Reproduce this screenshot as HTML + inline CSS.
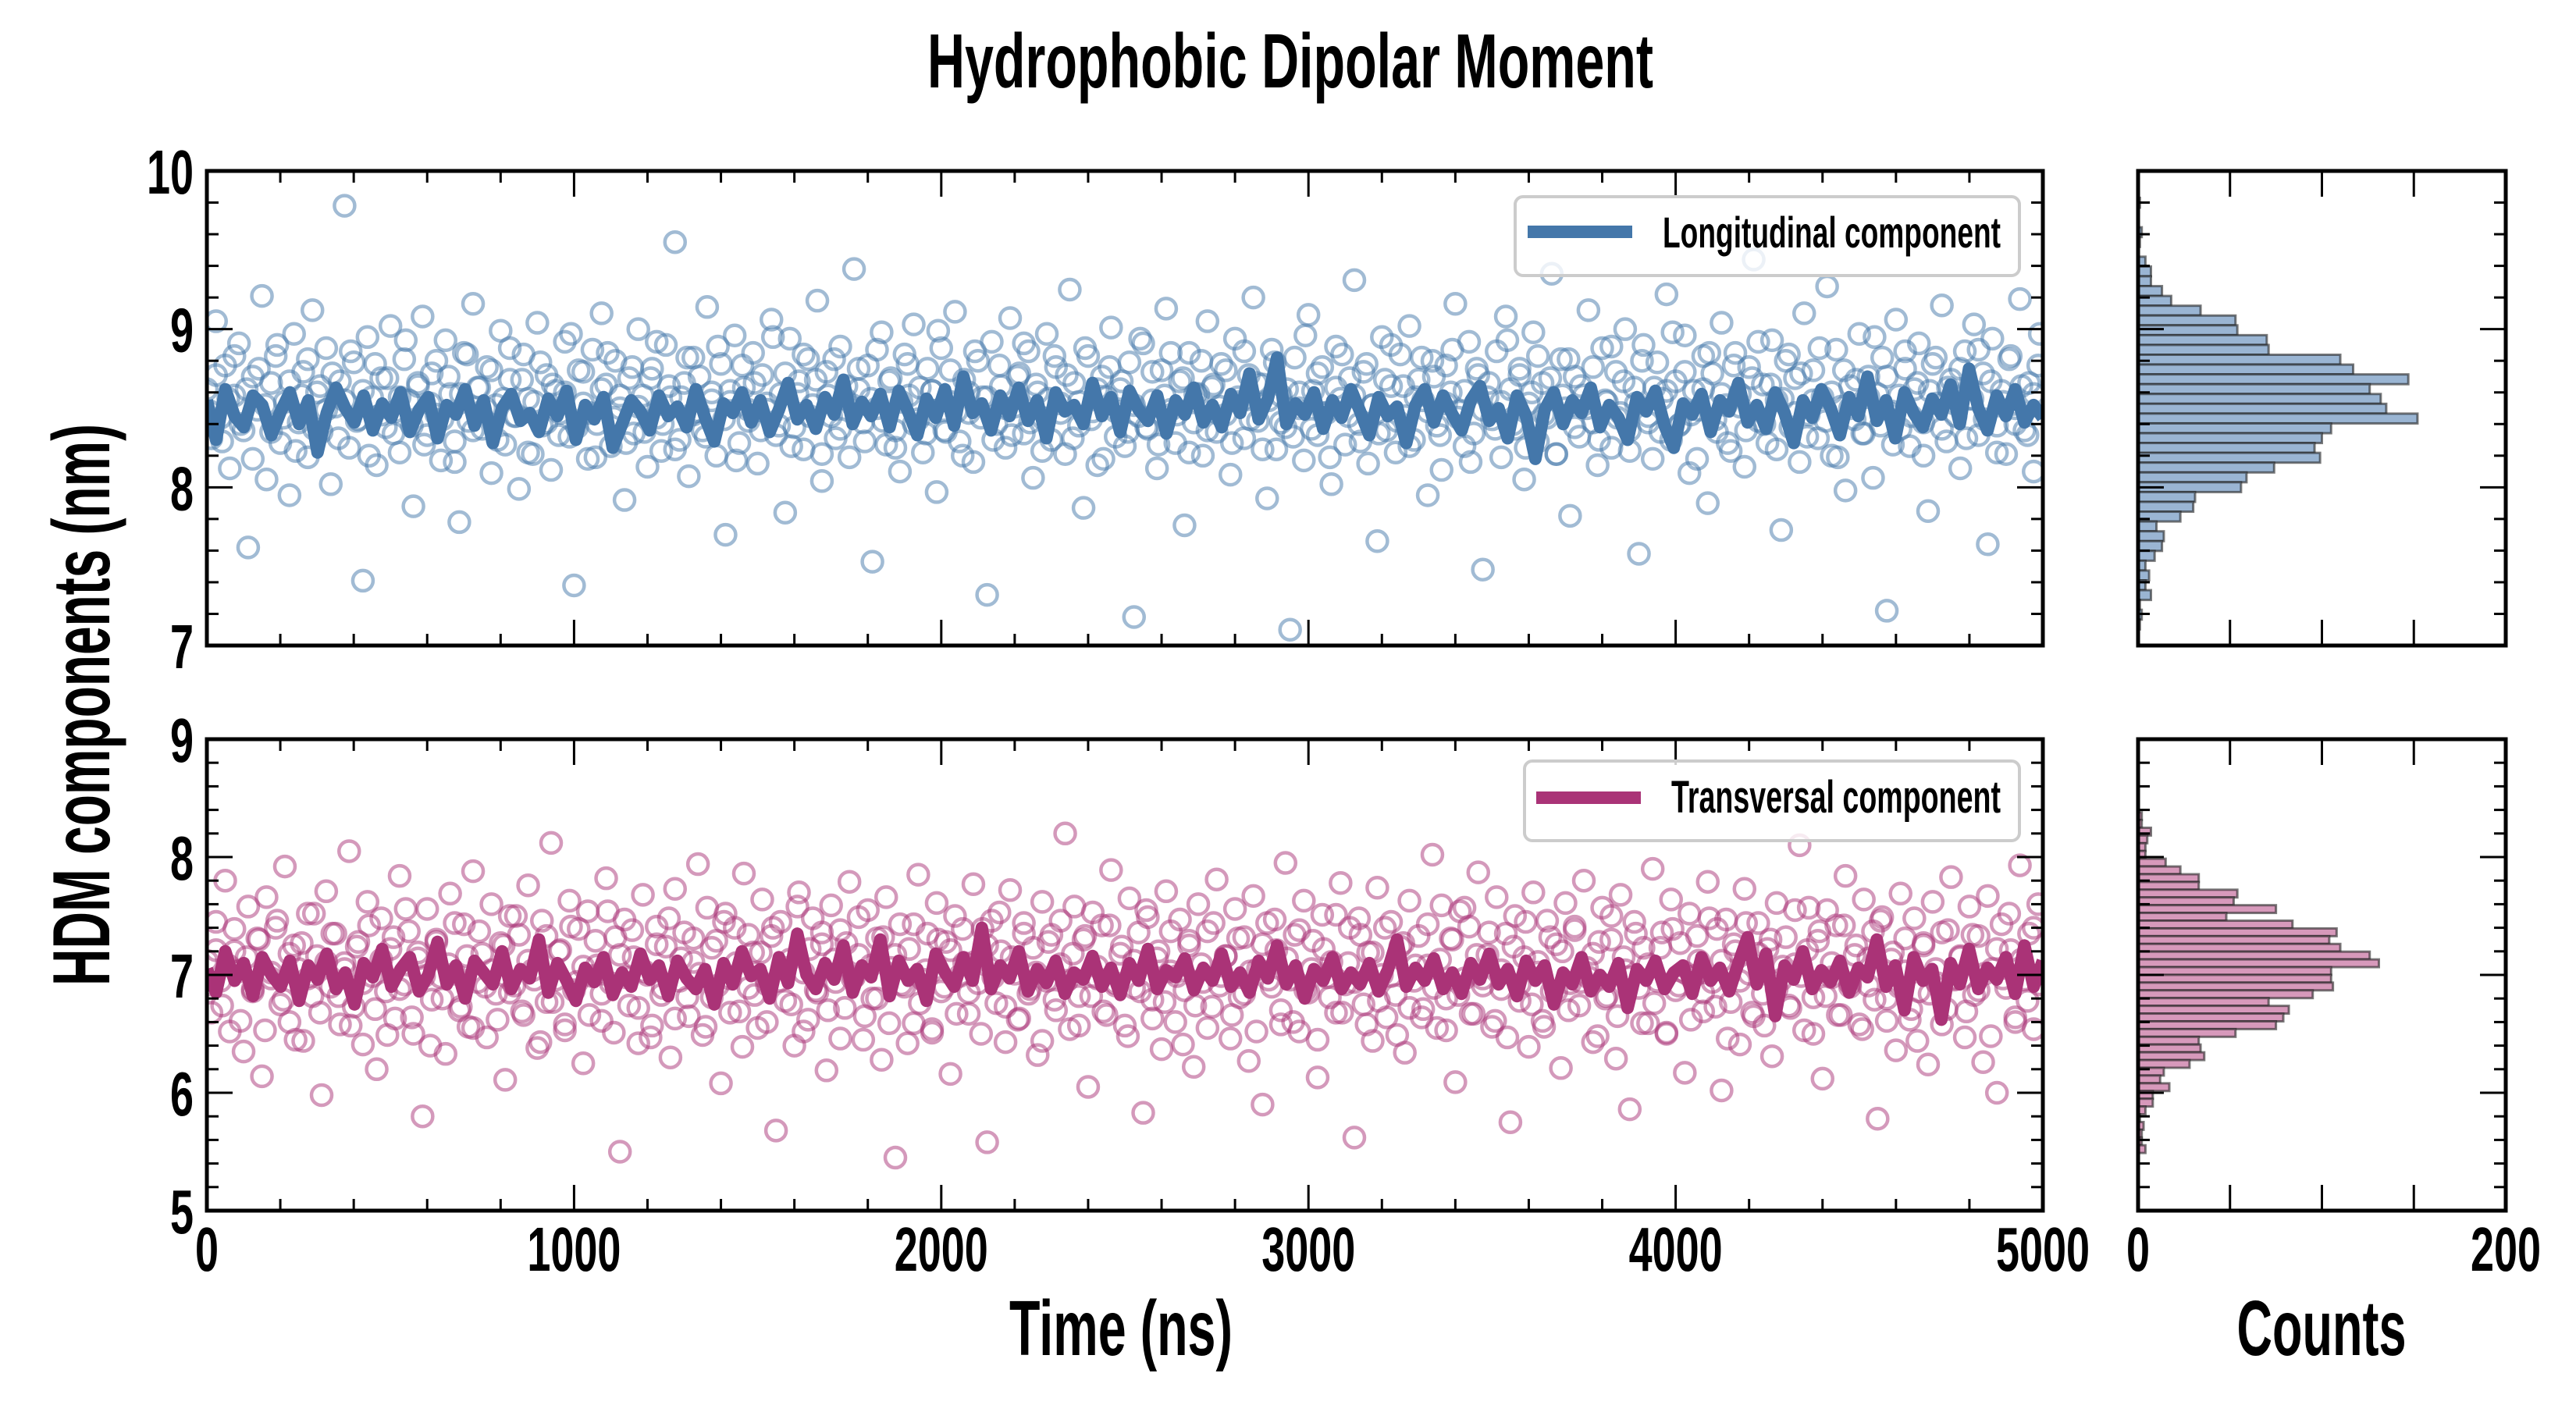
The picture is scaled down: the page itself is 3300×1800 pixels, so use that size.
<!DOCTYPE html>
<html><head><meta charset="utf-8"><style>
html,body{margin:0;padding:0;background:#fff;}
svg{display:block;}
text{font-family:"Liberation Sans",sans-serif;font-weight:bold;fill:#000;}
</style></head><body>
<svg id="chart" width="3300" height="1800" viewBox="0 0 3300 1800" xmlns="http://www.w3.org/2000/svg">
<defs>
<clipPath id="clipTop"><rect x="265" y="219" width="2352" height="608"/></clipPath>
<clipPath id="clipBot"><rect x="265" y="947" width="2352" height="604"/></clipPath>
</defs>
<text x="1653" y="112" font-size="98" text-anchor="middle" textLength="930" lengthAdjust="spacingAndGlyphs">Hydrophobic Dipolar Moment</text>
<text transform="translate(140,903) rotate(-90)" font-size="104" text-anchor="middle" textLength="720" lengthAdjust="spacingAndGlyphs">HDM components (nm)</text>
<text x="1436" y="1736" font-size="100" text-anchor="middle" textLength="286" lengthAdjust="spacingAndGlyphs">Time (ns)</text>
<text x="2974" y="1736" font-size="100" text-anchor="middle" textLength="217" lengthAdjust="spacingAndGlyphs">Counts</text>
<g id="gTop"></g>
<g id="gBot"></g>
<g id="gHTop"></g>
<g id="gHBot"></g>
<g id="legTop">
<rect x="1941" y="252" width="646" height="101" rx="10" fill="#fff" fill-opacity="0.8" stroke="#cccccc" stroke-width="4"/>
<line x1="1957" y1="297" x2="2091" y2="297" stroke="#4477aa" stroke-width="16"/>
<text x="2130" y="317" font-size="56" textLength="433" lengthAdjust="spacingAndGlyphs">Longitudinal component</text>
</g>
<g id="legBot">
<rect x="1953" y="975" width="634" height="102" rx="10" fill="#fff" fill-opacity="0.8" stroke="#cccccc" stroke-width="4"/>
<line x1="1968" y1="1022" x2="2102" y2="1022" stroke="#aa3377" stroke-width="16"/>
<text x="2141" y="1041" font-size="58" textLength="422" lengthAdjust="spacingAndGlyphs">Transversal component</text>
</g>
</svg>
<script>
const longScatter=[8.62,8.31,9.05,8.44,8.77,8.12,8.58,8.91,8.36,7.62,8.70,8.49,9.21,8.05,8.66,8.83,8.28,8.54,7.95,8.97,
8.41,8.73,8.19,9.12,8.60,8.35,8.88,8.02,8.51,8.67,9.78,8.25,8.79,8.43,7.41,8.95,8.57,8.14,8.69,8.38,
9.02,8.48,8.22,8.81,8.55,7.88,8.64,9.08,8.33,8.72,8.46,8.17,8.93,8.59,8.29,7.78,8.85,8.42,9.16,8.63,
8.37,8.76,8.09,8.52,8.99,8.27,8.68,8.45,7.99,8.84,8.56,8.21,9.04,8.39,8.71,8.11,8.61,8.47,8.92,8.32,
7.38,8.74,8.53,8.18,8.87,8.40,9.10,8.65,8.26,8.80,8.50,7.92,8.69,8.34,9.00,8.58,8.13,8.75,8.44,8.23,
8.90,8.57,9.55,8.30,8.66,8.07,8.82,8.48,8.36,9.14,8.60,8.20,8.78,7.70,8.54,8.96,8.28,8.63,8.42,8.85,
8.15,8.71,8.49,9.06,8.33,8.59,7.84,8.94,8.38,8.67,8.24,8.81,8.52,9.18,8.04,8.73,8.45,8.31,8.89,8.56,
8.19,9.38,8.62,8.41,8.77,7.53,8.50,8.98,8.27,8.69,8.36,8.10,8.84,8.58,9.03,8.43,8.22,8.75,8.61,7.97,
8.88,8.35,8.54,9.11,8.29,8.68,8.47,8.16,8.80,8.57,7.32,8.92,8.40,8.64,8.25,9.07,8.51,8.72,8.34,8.86,
8.06,8.60,8.44,8.97,8.30,8.76,8.53,8.21,9.25,8.66,8.39,7.87,8.83,8.48,8.14,8.70,8.57,9.01,8.32,8.62,
8.26,8.79,7.18,8.45,8.91,8.37,8.55,8.12,8.74,9.13,8.49,8.28,8.67,7.76,8.85,8.41,8.59,8.20,9.05,8.63,
8.35,8.78,8.46,8.08,8.94,8.54,8.31,8.71,9.20,8.42,8.65,7.93,8.87,8.24,8.58,8.38,7.10,8.82,8.50,8.17,
9.09,8.61,8.33,8.76,8.47,8.02,8.89,8.56,8.27,8.69,9.31,8.40,8.73,8.15,8.52,7.66,8.95,8.36,8.64,8.22,
8.84,8.45,9.02,8.30,8.68,8.55,7.95,8.80,8.39,8.11,8.77,8.60,9.16,8.48,8.26,8.92,8.34,8.71,7.48,8.57,
8.43,8.86,8.19,9.08,8.62,8.37,8.75,8.05,8.53,8.98,8.29,8.66,8.44,9.35,8.21,8.81,8.50,7.82,8.70,8.32,
8.58,9.12,8.41,8.14,8.88,8.54,8.25,8.73,8.47,9.00,8.36,8.63,7.58,8.90,8.45,8.18,8.79,8.56,9.22,8.30,
8.67,8.40,8.96,8.09,8.61,8.49,8.83,7.90,8.72,8.35,9.04,8.52,8.23,8.85,8.59,8.13,8.76,9.44,8.42,8.65,
8.28,8.93,8.55,7.73,8.80,8.38,8.69,8.16,9.10,8.46,8.74,8.31,8.57,9.27,8.20,8.87,8.51,7.98,8.64,8.43,
8.97,8.34,8.70,8.06,8.59,8.82,7.22,8.48,9.06,8.37,8.75,8.26,8.62,8.91,8.41,7.85,8.78,8.53,9.15,8.29,
8.68,8.45,8.12,8.86,8.56,9.03,8.33,8.72,7.64,8.94,8.39,8.61,8.21,8.83,8.50,9.19,8.36,8.66,8.10,8.77];
const longScatterB=[8.48,8.71,8.29,8.56,8.83,8.40,8.62,8.18,8.75,8.52,8.35,8.90,8.44,8.67,8.23,8.58,8.81,8.37,8.64,8.49,
8.72,8.31,8.55,8.86,8.42,8.61,8.20,8.78,8.46,8.69,8.34,8.57,8.93,8.39,8.66,8.27,8.53,8.80,8.43,8.70,
8.16,8.59,8.84,8.36,8.63,8.50,8.74,8.30,8.56,8.88,8.45,8.68,8.22,8.54,8.79,8.41,8.65,8.33,8.60,8.97,
8.38,8.73,8.47,8.19,8.62,8.85,8.44,8.58,8.28,8.76,8.51,8.35,8.69,8.92,8.40,8.64,8.24,8.57,8.82,8.46,
8.70,8.32,8.55,8.89,8.43,8.61,8.17,8.77,8.49,8.66,8.36,8.53,8.95,8.39,8.72,8.26,8.59,8.84,8.45,8.68,
8.21,8.58,8.81,8.37,8.64,8.52,8.75,8.29,8.56,8.87,8.42,8.67,8.25,8.54,8.78,8.40,8.63,8.34,8.61,8.99,
8.36,8.74,8.48,8.20,8.60,8.86,8.44,8.57,8.30,8.77,8.50,8.33,8.70,8.91,8.41,8.65,8.23,8.56,8.83,8.47,
8.71,8.31,8.54,8.88,8.43,8.62,8.18,8.76,8.48,8.67,8.35,8.52,8.94,8.38,8.73,8.27,8.58,8.85,8.46,8.69,
8.22,8.59,8.80,8.36,8.65,8.51,8.74,8.28,8.57,8.86,8.43,8.66,8.24,8.55,8.79,8.41,8.62,8.32,8.60,8.96,
8.37,8.72,8.47,8.19,8.63,8.84,8.45,8.58,8.29,8.78,8.52,8.34,8.68,8.90,8.42,8.64,8.26,8.57,8.82,8.48,
8.70,8.33,8.53,8.87,8.44,8.61,8.16,8.75,8.49,8.66,8.37,8.54,8.93,8.40,8.71,8.25,8.60,8.83,8.46,8.69,
8.21,8.58,8.81,8.38,8.64,8.50,8.76,8.30,8.55,8.89,8.44,8.67,8.23,8.53,8.80,8.41,8.63,8.35,8.61,8.98,
8.39,8.73,8.46,8.18,8.62,8.85,8.43,8.59,8.28,8.77,8.51,8.36,8.69,8.92,8.40,8.65,8.24,8.56,8.84,8.47,
8.72,8.32,8.55,8.88,8.42,8.60,8.19,8.74,8.50,8.68,8.34,8.57,8.95,8.39,8.70,8.27,8.58,8.86,8.45,8.66,
8.20,8.61,8.82,8.37,8.63,8.53,8.75,8.31,8.56,8.87,8.43,8.67,8.22,8.54,8.81,8.40,8.64,8.33,8.59,8.97];
const longLine=[8.55,8.30,8.62,8.45,8.38,8.58,8.52,8.33,8.48,8.60,8.40,8.55,8.22,8.47,8.63,8.50,8.41,8.58,8.36,8.53,
8.44,8.60,8.35,8.49,8.57,8.31,8.52,8.46,8.62,8.39,8.55,8.28,8.50,8.59,8.42,8.47,8.35,8.56,8.45,8.61,
8.30,8.52,8.43,8.57,8.25,8.40,8.55,8.48,8.36,8.58,8.45,8.51,8.38,8.62,8.44,8.29,8.53,8.47,8.60,8.41,
8.55,8.35,8.49,8.66,8.43,8.52,8.37,8.57,8.46,8.68,8.40,8.54,8.45,8.59,8.38,8.61,8.48,8.33,8.56,8.44,
8.62,8.39,8.70,8.47,8.53,8.36,8.58,8.45,8.63,8.42,8.55,8.31,8.60,8.48,8.52,8.40,8.66,8.45,8.57,8.35,
8.61,8.49,8.42,8.58,8.34,8.55,8.46,8.63,8.41,8.52,8.38,8.59,8.47,8.72,8.43,8.56,8.82,8.40,8.53,8.46,
8.60,8.37,8.55,8.44,8.62,8.48,8.33,8.57,8.45,8.51,8.28,8.52,8.62,8.41,8.58,8.46,8.36,8.55,8.64,8.42,
8.50,8.31,8.58,8.45,8.18,8.49,8.60,8.40,8.55,8.47,8.63,8.38,8.52,8.44,8.30,8.57,8.48,8.61,8.39,8.25,
8.53,8.46,8.59,8.35,8.55,8.48,8.66,8.41,8.52,8.37,8.60,8.47,8.28,8.55,8.44,8.62,8.50,8.33,8.57,8.45,
8.70,8.42,8.55,8.31,8.60,8.47,8.38,8.56,8.46,8.65,8.40,8.75,8.50,8.36,8.58,8.45,8.62,8.41,8.52,8.44];
const transScatter=[7.12,6.68,7.45,6.95,7.80,6.52,7.20,7.03,6.35,7.58,6.88,7.31,6.14,7.66,6.97,7.40,6.75,7.92,6.60,7.25,
7.05,6.44,7.52,6.82,7.16,5.98,7.71,6.90,7.35,6.58,7.10,8.05,6.73,7.28,6.41,7.62,6.99,6.20,7.48,6.86,
7.22,6.63,7.84,6.92,7.37,6.50,7.14,5.80,7.56,6.79,7.30,6.98,6.33,7.69,7.01,6.70,7.43,6.56,7.88,6.94,
7.18,6.47,7.60,6.84,7.27,6.11,7.50,6.91,7.34,6.66,7.76,7.04,6.38,7.46,6.77,8.12,6.96,7.21,6.53,7.63,
6.87,7.39,6.25,7.54,6.99,7.08,6.61,7.82,6.93,7.32,5.50,7.47,6.74,7.15,6.42,7.68,7.00,6.57,7.41,6.83,
7.24,6.30,7.73,6.95,7.36,6.65,7.11,7.94,6.49,7.57,6.81,7.29,6.08,7.52,6.97,7.40,6.69,7.86,6.89,7.19,
6.55,7.64,6.92,7.33,5.68,7.45,6.78,7.13,6.40,7.70,7.02,6.62,7.48,6.85,7.26,6.19,7.59,6.94,7.38,6.72,
7.79,6.98,7.17,6.45,7.55,6.80,7.31,6.28,7.66,7.06,5.45,7.43,6.90,7.22,6.59,7.85,6.96,7.35,6.51,7.61,
6.86,7.28,6.16,7.50,6.99,7.10,6.67,7.77,6.93,7.39,5.58,7.46,6.76,7.20,6.43,7.72,7.01,6.63,7.44,6.84,
7.23,6.32,7.62,6.95,7.34,6.70,7.09,8.20,6.54,7.58,6.82,7.30,6.05,7.53,6.97,7.42,6.66,7.89,6.91,7.18,
6.57,7.65,6.89,7.36,5.83,7.49,6.79,7.14,6.37,7.71,7.03,6.60,7.47,6.87,7.25,6.22,7.60,6.94,7.37,6.73,
7.81,6.99,7.16,6.46,7.56,6.81,7.32,6.27,7.67,7.05,5.90,7.44,6.90,7.21,6.58,7.95,6.96,7.34,6.52,7.63,
6.85,7.29,6.13,7.51,6.98,7.11,6.68,7.78,6.92,7.40,5.62,7.48,6.75,7.19,6.44,7.74,7.00,6.64,7.45,6.83,
7.24,6.34,7.63,6.95,7.33,6.71,7.08,8.02,6.55,7.59,6.80,7.31,6.09,7.54,6.97,7.41,6.67,7.87,6.91,7.17,
6.56,7.66,6.88,7.35,5.75,7.50,6.78,7.15,6.39,7.70,7.02,6.61,7.46,6.86,7.26,6.21,7.61,6.93,7.38,6.74,
7.80,6.98,7.18,6.48,7.57,6.82,7.30,6.29,7.68,7.04,5.86,7.45,6.89,7.23,6.59,7.90,6.95,7.36,6.50,7.64,
6.87,7.27,6.17,7.52,6.99,7.12,6.69,7.79,6.94,7.39,6.02,7.47,6.77,7.20,6.41,7.73,7.01,6.65,7.44,6.84,
7.22,6.31,7.61,6.96,7.32,6.72,7.09,8.10,6.53,7.57,6.81,7.29,6.12,7.55,6.98,7.42,6.66,7.84,6.90,7.17,
6.58,7.64,6.91,7.37,5.78,7.49,6.80,7.13,6.36,7.69,7.03,6.62,7.48,6.86,7.25,6.24,7.62,6.93,7.36,6.71,
7.83,6.97,7.15,6.47,7.58,6.83,7.33,6.26,7.67,7.05,6.00,7.43,6.89,7.21,6.60,7.93,6.96,7.35,6.54,7.60];
const transScatterB=[6.92,7.21,6.74,7.08,7.39,6.61,7.15,6.86,7.30,6.53,7.02,7.46,6.79,7.18,6.45,7.27,6.97,7.52,6.68,7.11,
7.35,6.82,7.05,6.57,7.24,6.93,7.42,6.71,7.13,6.49,7.32,6.88,7.56,6.64,7.19,6.99,6.40,7.28,6.80,7.09,
7.44,6.73,7.16,6.55,7.37,6.90,7.04,6.62,7.25,6.85,7.50,6.69,7.12,6.96,6.43,7.33,6.77,7.20,6.58,7.41,
6.94,7.07,6.66,7.29,6.84,7.54,6.51,7.17,6.98,7.38,6.72,7.03,6.47,7.26,6.89,7.48,6.63,7.14,6.81,7.31,
7.01,6.56,7.23,6.91,7.45,6.68,7.10,6.39,7.34,6.83,7.19,6.60,7.40,6.95,7.06,6.75,7.58,6.52,7.22,6.87,
7.36,6.70,7.13,6.46,7.27,6.97,7.49,6.65,7.08,6.80,7.32,6.59,7.17,6.92,6.42,7.43,6.76,7.04,6.54,7.30,
6.90,7.21,6.67,7.39,6.85,7.11,6.50,7.25,6.98,7.53,6.73,7.15,6.62,7.35,6.88,7.02,6.44,7.28,6.79,7.46,
6.95,7.18,6.57,7.33,6.82,7.07,6.69,7.42,6.93,7.24,6.48,7.12,6.86,7.55,6.63,7.20,6.77,7.37,6.99,6.41,
7.29,6.74,7.09,6.55,7.44,6.91,7.16,6.66,7.31,6.84,7.03,6.52,7.26,6.96,7.47,6.70,7.14,6.60,7.38,6.87,
7.05,6.45,7.22,6.81,7.51,6.68,7.10,6.94,7.34,6.58,7.19,6.78,7.40,6.99,6.49,7.27,6.72,7.08,6.64,7.43,
6.89,7.13,6.53,7.30,6.83,7.57,6.67,7.17,6.97,7.36,6.61,7.04,6.47,7.24,6.92,7.45,6.75,7.11,6.56,7.32,
6.86,7.20,6.70,7.41,6.94,7.06,6.43,7.28,6.80,7.50,6.65,7.15,6.98,7.35,6.59,7.09,6.76,7.23,6.51,7.39,
6.91,7.02,6.62,7.33,6.85,7.48,6.73,7.12,6.46,7.26,6.95,7.44,6.68,7.18,6.57,7.30,6.88,7.07,6.74,7.55,
6.99,7.21,6.50,7.37,6.82,7.10,6.66,7.42,6.93,7.25,6.54,7.14,6.79,7.46,6.61,7.19,6.90,7.31,6.71,6.44,
7.27,6.84,7.05,6.58,7.38,6.96,7.16,6.69,7.34,6.87,7.01,6.48,7.22,6.97,7.52,6.64,7.13,6.78,7.40,6.92];
const transLine=[7.05,6.85,7.20,6.95,7.10,6.82,7.15,7.00,6.90,7.12,6.78,7.08,6.96,7.18,6.88,7.02,6.75,7.10,6.98,7.22,
6.90,7.05,7.15,6.86,7.00,7.28,6.92,7.08,6.80,7.12,7.02,6.92,7.20,6.88,7.05,6.97,7.30,6.85,7.10,6.95,
6.78,7.06,6.94,7.15,6.83,7.02,6.90,7.18,6.96,7.08,6.82,7.12,6.97,6.88,7.05,6.75,7.10,6.92,7.20,6.99,
7.05,6.80,7.15,6.93,7.35,7.00,6.88,7.10,6.96,7.25,6.85,7.08,6.98,7.30,6.82,7.12,6.95,7.05,6.78,7.18,
7.02,6.90,7.15,6.95,7.40,6.88,7.08,6.97,7.20,6.86,7.05,6.93,7.12,6.84,7.02,6.96,7.16,6.90,7.06,6.83,
7.10,6.95,7.22,6.88,7.04,6.98,7.14,6.87,7.06,6.95,7.18,6.90,7.02,6.85,7.12,6.97,7.25,6.92,7.08,6.80,
7.05,6.95,7.15,6.88,7.02,6.92,7.10,6.86,7.04,7.30,6.90,7.06,6.95,7.14,6.88,7.02,6.84,7.10,6.96,7.18,
6.92,7.05,6.82,7.12,6.95,7.08,6.75,7.02,6.92,7.15,6.86,7.00,6.90,7.10,6.72,7.05,6.95,7.12,6.88,7.02,
7.08,6.84,7.15,6.95,7.06,6.86,7.10,7.32,6.92,7.18,6.65,7.08,6.96,7.20,6.88,7.04,6.94,7.12,6.85,7.06,
6.98,7.30,6.90,7.08,6.70,7.15,6.95,7.05,6.62,7.10,6.92,7.22,6.88,7.06,6.96,7.15,6.84,7.25,6.90,7.12];
const longHistStart=9.83, longHistWidth=0.062;
const longHistCounts=[1,0,0,2,1,0,4,7,7,13,18,34,53,54,70,71,110,117,147,126,132,135,152,105,100,96,99,74,59,56,31,30,23,10,14,13,9,4,6,4,7,1,2,1];
const transHistStart=8.38, transHistWidth=0.0657;
const transHistCounts=[2,2,7,5,4,4,15,23,33,33,54,52,75,48,84,108,104,110,126,131,105,105,106,95,71,82,79,75,53,33,34,36,28,14,12,17,8,8,4,1,3,2,2,4];
const xTicks=[0,1000,2000,3000,4000,5000];
const longYTicks=[10,9,8,7];
const transYTicks=[9,8,7,6,5];
const histXTickLabels=[0,200];

const NS="http://www.w3.org/2000/svg";
function mk(tag,attrs,parent){const e=document.createElementNS(NS,tag);for(const k in attrs)e.setAttribute(k,attrs[k]);parent.appendChild(e);return e;}
const X0=265,X1=2617,HX0=2739,HX1=3210;
const panels={top:{y0:219,y1:827,vmin:7,vmax:10},bot:{y0:947,y1:1551,vmin:5,vmax:9}};
function xScale(t){return X0+t/5000*(X1-X0);}
function yScale(p,v){return p.y1-(v-p.vmin)/(p.vmax-p.vmin)*(p.y1-p.y0);}
function hxScale(c){return HX0+c/200*(HX1-HX0);}

function drawTicks(g,x0,x1,p,xMinor,xMajor,xmax,xs){
  for(let t=0;t<=xmax+1e-9;t+=xMinor){const x=xs(t);const major=Math.abs(t/xMajor-Math.round(t/xMajor))<1e-6;const L=major?33:15;
    mk('line',{x1:x,y1:p.y1,x2:x,y2:p.y1-L,stroke:'#000','stroke-width':3},g);
    mk('line',{x1:x,y1:p.y0,x2:x,y2:p.y0+L,stroke:'#000','stroke-width':3},g);}
  for(let v=p.vmin;v<=p.vmax+1e-9;v+=0.2){const y=yScale(p,v);const major=Math.abs(v-Math.round(v))<1e-6;const L=major?33:15;
    mk('line',{x1:x0,y1:y,x2:x0+L,y2:y,stroke:'#000','stroke-width':3},g);
    mk('line',{x1:x1,y1:y,x2:x1-L,y2:y,stroke:'#000','stroke-width':3},g);}
}

function drawScatter(sg,p,arr,color,offset){
  const n=arr.length;
  arr.forEach((v,i)=>{const t=(i+offset)*5000/n;const c=mk('circle',{cx:xScale(t),cy:yScale(p,v),r:13,fill:'none',stroke:color,'stroke-width':4.5,'stroke-opacity':0.5},sg);
    
    });
}

function drawPanel(g,p,scatter,scatterB,line,color,clip,yTicks,showX){
  const sg=mk('g',{'clip-path':'url(#'+clip+')'},g);
  
  
  drawScatter(sg,p,scatter,color,0);
  drawScatter(sg,p,scatterB,color,0.5);
  const m=line.length;
  const d=line.map((v,i)=>(i?'L':'M')+xScale(i*5000/(m-1)).toFixed(1)+','+yScale(p,v).toFixed(1)).join('');
  const pl=mk('path',{d:d,fill:'none',stroke:color,'stroke-width':16,'stroke-linejoin':'round'},sg);
  
  
  drawTicks(g,X0,X1,p,200,1000,5000,xScale);
  const fr=mk('rect',{x:X0,y:p.y0,width:X1-X0,height:p.y1-p.y0,fill:'none',stroke:'#000','stroke-width':5},g);
  
  
  yTicks.forEach(v=>{const t=mk('text',{x:248,y:yScale(p,v)+29,'font-size':80,'text-anchor':'end',textLength:String(v).length*30,lengthAdjust:'spacingAndGlyphs'},g);t.textContent=v;
    
    });
  if(showX){xTicks.forEach(v=>{const s=String(v);const t=mk('text',{x:xScale(v),y:1628,'font-size':80,'text-anchor':'middle',textLength:s.length*30,lengthAdjust:'spacingAndGlyphs'},g);t.textContent=s;
    
    });}
}

function drawHist(g,p,start,width,counts,fill,showX){
  counts.forEach((c,i)=>{const top=start-i*width;const y=yScale(p,top);const h=yScale(p,top-width)-y;
    const r=mk('rect',{x:HX0,y:y,width:Math.max(hxScale(c)-HX0,0),height:h,fill:fill,stroke:'#222','stroke-opacity':0.6,'stroke-width':3},g);
    
    });
  drawTicks(g,HX0,HX1,p,50,1e9,200,hxScale);
  const fr=mk('rect',{x:HX0,y:p.y0,width:HX1-HX0,height:p.y1-p.y0,fill:'none',stroke:'#000','stroke-width':5},g);
  
  
  if(showX){histXTickLabels.forEach(v=>{const s=String(v);const t=mk('text',{x:hxScale(v),y:1628,'font-size':80,'text-anchor':'middle',textLength:s.length*30,lengthAdjust:'spacingAndGlyphs'},g);t.textContent=s;
    
    });}
}

drawPanel(document.getElementById('gTop'),panels.top,longScatter,longScatterB,longLine,'#4477aa','clipTop',longYTicks,false);
drawPanel(document.getElementById('gBot'),panels.bot,transScatter,transScatterB,transLine,'#aa3377','clipBot',transYTicks,true);
drawHist(document.getElementById('gHTop'),panels.top,longHistStart,longHistWidth,longHistCounts,'#9ab5d3',false);
drawHist(document.getElementById('gHBot'),panels.bot,transHistStart,transHistWidth,transHistCounts,'#d799bb',true);
const svg=document.getElementById('chart');
svg.appendChild(document.getElementById('legTop'));
svg.appendChild(document.getElementById('legBot'));
</script>
</body></html>
